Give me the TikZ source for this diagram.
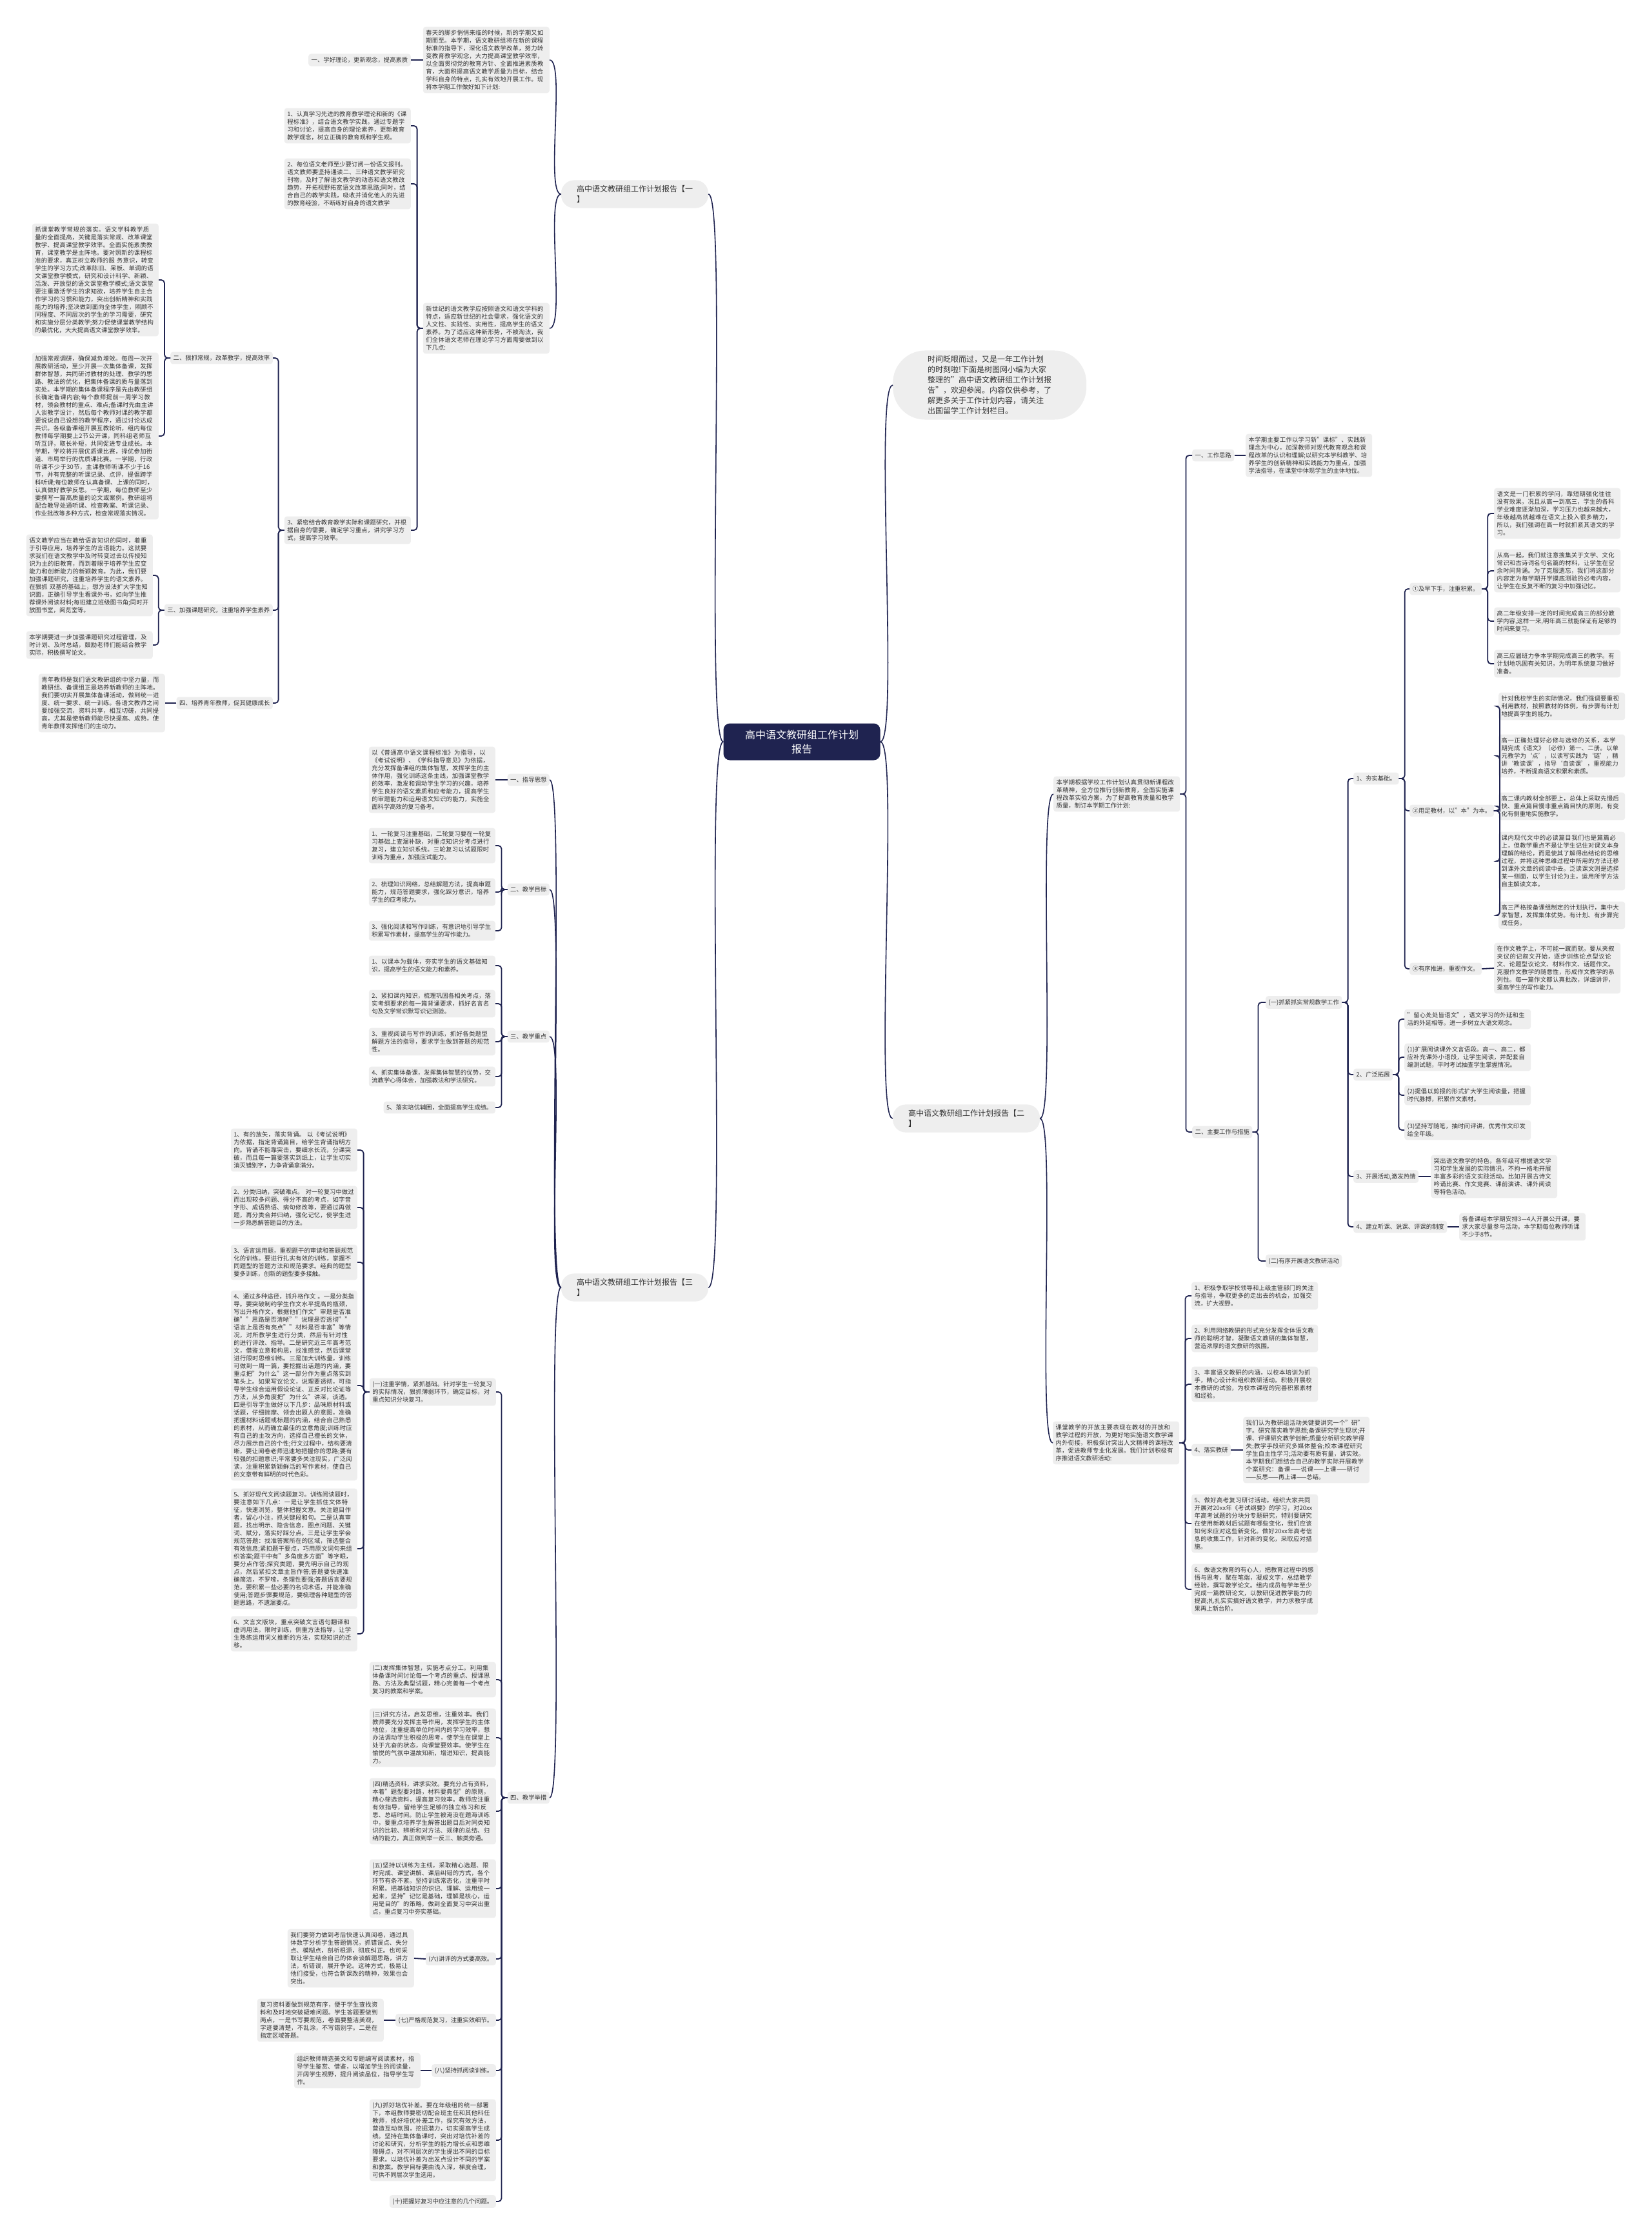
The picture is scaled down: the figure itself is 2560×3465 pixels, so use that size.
\documentclass[tikz,border=0pt]{standalone}
\usepackage{fontspec}
\setmainfont{Noto Sans CJK SC}
\XeTeXlinebreaklocale "zh"
\XeTeXlinebreakskip=0pt plus 1pt
\definecolor{linecol}{HTML}{1F2350}
\definecolor{rootfill}{HTML}{1F2350}
\definecolor{boxfill}{HTML}{EEEEEE}
\definecolor{inkcol}{HTML}{333333}

\begin{document}
\begin{tikzpicture}[
    x=1pt, y=-1pt,
    % Styles
    root/.style={
      fill=rootfill,
      text=white,
      rounded corners=10pt,
      align=center,
      font=\fontsize{16}{22}\selectfont,
      minimum width=243pt,
      minimum height=57pt,
    },
    branch/.style={
      fill=boxfill,
      text=inkcol,
      rounded corners=20pt,
      align=left,
      font=\fontsize{12}{16}\selectfont,
      inner xsep=24pt,
      inner ysep=8pt,
    },
    intro/.style={
      fill=boxfill,
      text=inkcol,
      rounded corners=50pt,
      align=left,
      font=\fontsize{12}{16}\selectfont,
      inner xsep=54pt,
      inner ysep=8pt,
    },
    leaf/.style={
      fill=boxfill,
      text=inkcol,
      rounded corners=4pt,
      align=left,
      text width=#1,
      font=\fontsize{9.35}{12}\selectfont,
      inner xsep=4.5pt,
      inner ysep=5pt,
    },
    leaf/.default=187pt,
    tag/.style={
      fill=boxfill,
      text=inkcol,
      rounded corners=4pt,
      font=\fontsize{9.35}{12}\selectfont,
      inner xsep=4.5pt,
      inner ysep=5pt,
    },
    link/.style={draw=linecol, line width=1.8pt, rounded corners=5pt},
    curve/.style={draw=linecol, line width=1.6pt},
  ]
  \fill[white] (0,0) rectangle (2560,3465);
  \useasboundingbox (0,0) rectangle (2560,3465);

  % centre and main branches
  \node[root] (root) at (1243,1150) {高中语文教研组工作计划\\报告};
  \node[branch] (b1) at (984,301) {高中语文教研组工作计划报告【一\\】};
  \node[branch] (b3) at (984,1996) {高中语文教研组工作计划报告【三\\】};
  \node[branch] (b2) at (1498,1734) {高中语文教研组工作计划报告【二\\】};
  \node[intro, anchor=west] (intro) at (1384,597) {时间眨眼而过，又是一年工作计划\\的时刻啦!下面是树图网小编为大家\\整理的"高中语文教研组工作计划报\\告"，欢迎参阅。内容仅供参考，了\\解更多关于工作计划内容，请关注\\出国留学工作计划栏目。};

  \draw[curve] (root.west) .. controls +(-30,0) and +(30,0) .. (b1.east);
  \draw[curve] (root.west) .. controls +(-30,0) and +(30,0) .. (b3.east);
  \draw[curve] (root.east) .. controls +(30,0) and +(-30,0) .. (intro.west);
  \draw[curve] (root.east) .. controls +(30,0) and +(-30,0) .. (b2.west);

  % ---------------- plan one
  \node[leaf, anchor=east] (a1) at (852,93) {春天的脚步悄悄来临的时候，新的学期又如期而至。本学期，语文教研组将在新的课程标准的指导下，深化语文教学改革，努力转变教育教学观念，大力提高课堂教学效率，以全面贯彻党的教育方针、全面推进素质教育，大面积提高语文教学质量为目标，结合学科自身的特点，扎实有效地开展工作。现将本学期工作做好如下计划:};
  \node[tag, anchor=east] (x1) at (637,93) {一、学好理论，更新观念，提高素质};
  \node[leaf, anchor=east] (nc) at (852,509) {新世纪的语文教学应按照语文和语文学科的特点，适应新世纪的社会需求，强化语文的人文性、实践性、实用性，提高学生的语文素养。为了适应这种新形势，不被淘汰，我们全体语文老师在理论学习方面需要做到以下几点:};
  \node[leaf, anchor=east] (i1) at (637,195) {1、认真学习先进的教育教学理论和新的《课程标准》，结合语文教学实践，通过专题学习和讨论，提高自身的理论素养，更新教育教学观念，树立正确的教育观和学生观。};
  \node[leaf, anchor=east] (i2) at (637,285) {2、每位语文老师至少要订阅一份语文报刊。语文教师要坚持通读二、三种语文教学研究刊物，及时了解语文教学的动态和语文教改趋势，开拓视野拓宽语文改革思路;同时，结合自己的教学实践，吸收并消化他人的先进的教育经验，不断练好自身的语文教学};
  \node[leaf, anchor=east] (i3) at (637,822) {3、紧密结合教育教学实际和课题研究，并根据自身的需要，确定学习重点，讲究学习方式，提高学习效率。};
  \node[tag, anchor=east] (n2) at (423,555) {二、狠抓常规，改革教学，提高效率};
  \node[tag, anchor=east] (n3) at (423,946) {三、加强课题研究，注重培养学生素养};
  \node[tag, anchor=east] (n4) at (423,1090) {四、培养青年教师，促其健康成长};
  \node[leaf, anchor=east] (l1) at (246,434) {抓课堂教学常规的落实。语文学科教学质量的全面提高，关键是落实常规、改革课堂教学、提高课堂教学效率。全面实施素质教育，课堂教学是主阵地。要对照新的课程标准的要求，真正树立教师的服 务意识，转变学生的学习方式;改革陈旧、呆板、单调的语文课堂教学模式，研究和设计科学、新颖、活泼、开放型的语文课堂教学模式;语文课堂要注重激活学生的求知欲，培养学生自主合作学习的习惯和能力，突出创新精神和实践能力的培养;坚决做到面向全体学生，照顾不同程度、不同层次的学生的学习需要，研究和实施分层分类教学;努力促使课堂教学结构的最优化，大大提高语文课堂教学效率。};
  \node[leaf, anchor=east] (l2) at (246,676) {加强常规调研，确保减负增效。每周一次开展教研活动，至少开展一次集体备课，发挥群体智慧，共同研讨教材的处理、教学的思路、教法的优化，把集体备课的质与量落到实处。本学期的集体备课程序是先由教研组长确定备课内容;每个教师提前一周学习教材，领会教材的重点、难点;备课时先由主讲人谈教学设计，然后每个教师对课的教学都要说说自己设想的教学程序，通过讨论达成共识。各级备课组开展互教轮听，组内每位教师每学期要上2节公开课，同科组老师互听互评，取长补短，共同促进专业成长。本学期，学校将开展优质课比赛，择优参加街道、市局举行的优质课比赛。一学期，行政听课不少于30节，主课教师听课不少于16节，并有完整的听课记录、点评，提倡跨学科听课;每位教师在认真备课、上课的同时，认真做好教学反思。一学期，每位教师至少要撰写一篇高质量的论文或案例。教研组将配合教导处通听课、检查教案、听课记录、作业批改等多种方式，检查常规落实情况。};
  \node[leaf, anchor=east] (l3) at (237,892) {语文教学应当在教给语言知识的同时，着重于引导应用，培养学生的言语能力。这就要求我们在语文教学中及时转变过去以传授知识为主的旧教育，而到着眼于培养学生应变能力和创新能力的新颖教育。为此，我们要加强课题研究，注重培养学生的语文素养。在狠抓 双基的基础上，想方设法扩大学生知识面，正确引导学生看课外书，如向学生推荐课外阅读材料;每班建立班级图书角;同时开放图书室，阅览室等。};
  \node[leaf, anchor=east] (l4) at (237,1000) {本学期要进一步加强课题研究过程管理，及时计划、及时总结，鼓励老师们能结合教学实际，积极撰写论文。};
  \node[leaf, anchor=east] (l5) at (256,1090) {青年教师是我们语文教研组的中坚力量，而教研组、备课组正是培养新教师的主阵地。我们要切实开展集体备课活动，做到统一进度、统一要求、统一训练。各语文教师之间要加强交流，资料共享，相互切磋，共同提高，尤其是使新教师能尽快提高、成熟，使青年教师发挥他们的主动力。};

  \foreach \c in {a1,nc}
    \draw[curve] (b1.west) .. controls +(-25,0) and +(25,0) .. (\c.east);
  \draw[link] (a1.west) -- (x1.east);
  \foreach \c in {i1,i2,i3}
    \draw[link] (nc.west) -- ++(-9,0) |- (\c.east);
  \foreach \c in {n2,n3,n4}
    \draw[link] (i3.west) -- ++(-9,0) |- (\c.east);
  \foreach \c in {l1,l2}
    \draw[link] (n2.west) -- ++(-9,0) |- (\c.east);
  \foreach \c in {l3,l4}
    \draw[link] (n3.west) -- ++(-9,0) |- (\c.east);
  \draw[link] (n4.west) -- (l5.east);

  % ---------------- plan three
  \node[tag, anchor=east] (t1) at (852,1209) {一、指导思想};
  \node[tag, anchor=east] (t2) at (852,1379) {二、教学目标};
  \node[tag, anchor=east] (t3) at (852,1607) {三、教学重点};
  \node[tag, anchor=east] (t4) at (852,2787) {四、教学举措};
  \node[leaf, anchor=east] (tt1) at (768,1209) {以《普通高中语文课程标准》为指导，以《考试说明》、《学科指导意见》为依据，充分发挥备课组的集体智慧，发挥学生的主体作用，强化训练这条主线，加强课堂教学的效率，激发和调动学生学习的兴趣，培养学生良好的语文素质和应考能力，提高学生的审题能力和运用语文知识的能力，实施全面科学高效的复习备考。};
  \node[leaf, anchor=east] (g1) at (768,1311) {1、一轮复习注重基础，二轮复习要在一轮复习基础上查漏补缺，对重点知识分考点进行复习，建立知识系统。三轮复习以试题限时训练为重点，加强应试能力。};
  \node[leaf, anchor=east] (g2) at (768,1383) {2、梳理知识网络，总结解题方法，提高审题能力，规范答题要求，强化踩分意识，培养学生的应考能力。};
  \node[leaf, anchor=east] (g3) at (768,1443) {3、强化阅读和写作训练，有意识地引导学生积累写作素材，提高学生的写作能力。};
  \node[leaf, anchor=east] (k1) at (768,1497) {1、以课本为载体，夯实学生的语文基础知识，提高学生的语文能力和素养。};
  \node[leaf, anchor=east] (k2) at (768,1556) {2、紧扣课内知识，梳理巩固各相关考点，落实考纲要求的每一篇背诵要求，抓好名言名句及文学常识默写识记测验。};
  \node[leaf, anchor=east] (k3) at (768,1615) {3、重视阅读与写作的训练，抓好各类题型解题方法的指导，要求学生做到答题的规范性。};
  \node[leaf, anchor=east] (k4) at (768,1669) {4、抓实集体备课，发挥集体智慧的优势，交流教学心得体会，加强教法和学法研究。};
  \node[tag, anchor=east] (k5) at (768,1717) {5、落实培优辅困，全面提高学生成绩。};
  \node[leaf, anchor=east] (c1) at (769,2158) {(一)注重学情，紧抓基础。针对学生一轮复习的实际情况，狠抓薄弱环节，确定目标，对重点知识分块复习。};
  \node[leaf, anchor=east] (c2) at (769,2604) {(二)发挥集体智慧，实施考点分工。利用集体备课时间讨论每一个考点的重点、授课思路、方法及典型试题，精心完善每一个考点复习的教案和学案。};
  \node[leaf, anchor=east] (c3) at (769,2694) {(三)讲究方法，启发思维，注重效率。我们教师要充分发挥主导作用，发挥学生的主体地位，注重提高单位时间内的学习效率，想办法调动学生积极的思考，使学生在课堂上处于亢奋的状态，向课堂要效率。使学生在愉悦的气氛中温故知新，增进知识，提高能力。};
  \node[leaf, anchor=east] (c4) at (769,2808) {(四)精选资料，讲求实效。要充分占有资料，本着"题型要对路，材料要典型"的原则，精心筛选资料，提高复习效率。教师应注重有效指导，留给学生足够的独立练习和反思、总结时间。防止学生被淹没在题海训练中，要重点培养学生解答出题目后对同类知识的比较、辨析和对方法、规律的总结、归纳的能力，真正做到举一反三、触类旁通。};
  \node[leaf, anchor=east] (c5) at (769,2928) {(五)坚持以训练为主线，采取精心选题、限时完成、课堂讲解、课后纠错的方式，各个环节有条不紊。坚持训练常态化，注重平时积累。把基础知识的识记、理解、运用统一起来，坚持"记忆是基础，理解是核心，运用是目的"的策略，做到全面复习中突出重点，重点复习中夯实基础。};
  \node[tag, anchor=east] (c6) at (769,3037) {(六)讲评的方式要高效。};
  \node[tag, anchor=east] (c7) at (769,3132) {(七)严格规范复习，注重实效细节。};
  \node[tag, anchor=east] (c8) at (769,3210) {(八)坚持抓阅读训练。};
  \node[leaf, anchor=east] (c9) at (769,3318) {(九)抓好培优补差。要在年级组的统一部署下，本组教师要密切配合班主任和其他科任教师，抓好培优补差工作，探究有效方法，营造互动氛围，挖掘潜力，切实提高学生成绩。坚持在集体备课时，突出对培优补差的讨论和研究，分析学生的能力增长点和思维障碍点，对不同层次的学生提出不同的目标要求。以培优补差为出发点设计不同的学案和教案。教学目标要由浅入深，梯度合理，可供不同层次学生选用。};
  \node[tag, anchor=east] (c10) at (769,3413) {(十)把握好复习中应注意的几个问题。};
  \node[leaf, anchor=east] (s1) at (554,1783) {1、有的放矢，落实背诵。 以《考试说明》为依据，指定背诵篇目，给学生背诵指明方向。背诵不能靠突击，要细水长流，分课突破，而且每一篇要落实到纸上，让学生切实消灭错别字，力争背诵拿满分。};
  \node[leaf, anchor=east] (s2) at (554,1872) {2、分类归纳，突破难点。 对一轮复习中做过而出现较多问题、得分不高的考点，如字音字形、成语熟语、病句修改等，要通过再做题，再分类合并归纳，强化记忆，使学生进一步熟悉解答题目的方法。};
  \node[leaf, anchor=east] (s3) at (554,1957) {3、语言运用题，重视题干的审读和答题规范化的训练。要进行扎实有效的训练，掌握不同题型的答题方法和规范要求。经典的题型要多训练，创新的题型要多接触。};
  \node[leaf, anchor=east] (s4) at (554,2148) {4、通过多种途径，抓升格作文 。一是分类指导。要突破制约学生作文水平提高的瓶颈，写出升格作文，根据他们作文"审题是否准确""思路是否清晰""说理是否透彻""语言上是否有亮点""材料是否丰富"等情况，对所教学生进行分类，然后有针对性的进行评改、指导。二是研究近三年高考范文，借鉴立意和构思，找准感觉，然后课堂进行限时思维训练。三是加大训练量，训练可做到一周一篇，要挖掘出话题的内涵，要重点把"为什么"这一部分作为重点落实到笔头上。如果写议论文，说理要透彻，可指导学生综合运用假设论证、正反对比论证等方法，从多角度把"为什么"讲深，谈透。四是引导学生做好以下几步：品味原材料或话题，仔细揣摩、领会出题人的意图，准确把握材料话题或标题的内涵，结合自己熟悉的素材，从而确立最佳的立意角度;训练时应有自己的主攻方向，选择自己擅长的文体，尽力展示自己的个性;行文过程中，结构要清晰，要让阅卷老师迅速地把握你的思路;要有较强的扣题意识;平常要多关注现实，广泛阅读，注重积累新颖鲜活的写作素材，使自己的文章带有鲜明的时代色彩。};
  \node[leaf, anchor=east] (s5) at (554,2401) {5、抓好现代文阅读题复习。训练阅读题时，要注意如下几点：一是让学生抓住文体特征，快速浏览，整体把握文意。关注题目作者，留心小注，抓关键段和句。二是认真审题，找出明示、隐含信息，圈点问题、关键词、赋分，落实好踩分点。三是让学生学会规范答题：找准答案所在的区域，筛选整合有效信息;紧扣题干要点，巧用原文词句来组织答案;题干中有"多角度多方面"等字眼，要分点作答;探究类题，要先明示自己的观点，然后紧扣文章主旨作答;答题要快速准确简洁，不罗嗦，条理性要强;答题语言要规范，要积累一些必要的名词术语，并能准确使用;答题步骤要规范，要梳理各种题型的答题思路，不遗漏要点。};
  \node[leaf, anchor=east] (s6) at (554,2533) {6、文言文版块，重点突破文言语句翻译和虚词用法。限时训练，侧重方法指导，让学生熟练运用词义推断的方法，实现知识的迁移。};
  \node[leaf, anchor=east] (d6) at (642,3036) {我们要努力做到考后快速认真阅卷，通过具体数字分析学生答题情况，抓错误点、失分点、模糊点，剖析根源，彻底纠正。也可采取让学生结合自己的体会谈解题思路，讲方法，析错误，展开争论。这种方式，极易让他们接受，也符合新课改的精神，效果也会突出。};
  \node[leaf, anchor=east] (d7) at (595,3132) {复习资料要做到规范有序，便于学生查找资料和及时地突破疑难问题。学生答题要做到两点，一是书写要规范，卷面要整洁美观，字迹要清楚，不乱涂，不写错别字。二是在指定区域答题。};
  \node[leaf, anchor=east] (d8) at (652,3210) {组织教师精选美文和专题编写阅读素材，指导学生鉴赏、借鉴，以增加学生的阅读量，开阔学生视野，提升阅读品位，指导学生写作。};

  \foreach \c in {t1,t2,t3,t4}
    \draw[curve] (b3.west) .. controls +(-25,0) and +(25,0) .. (\c.east);
  \draw[link] (t1.west) -- (tt1.east);
  \foreach \c in {g1,g2,g3}
    \draw[link] (t2.west) -- ++(-9,0) |- (\c.east);
  \foreach \c in {k1,k2,k3,k4,k5}
    \draw[link] (t3.west) -- ++(-9,0) |- (\c.east);
  \foreach \c in {c1,c2,c3,c4,c5,c6,c7,c8,c9,c10}
    \draw[link] (t4.west) -- ++(-9,0) |- (\c.east);
  \foreach \c in {s1,s2,s3,s4,s5,s6}
    \draw[link] (c1.west) -- ++(-9,0) |- (\c.east);
  \draw[link] (c6.west) -- (d6.east);
  \draw[link] (c7.west) -- (d7.east);
  \draw[link] (c8.west) -- (d8.east);

  % ---------------- plan two
  \node[leaf, anchor=west] (r0) at (1633,1231) {本学期根据学校工作计划认真贯彻新课程改革精神，全方位推行创新教育，全面实施课程改革实验方案，为了提高教育质量和教学质量，制订本学期工作计划:};
  \node[leaf, anchor=west] (q0) at (1632,2237) {课堂教学的开放主要表现在教材的开放和教学过程的开放，为更好地实施语文教学课内外衔接，积极探讨突出人文精神的课程改革，促进教师专业化发展。我们计划积极有序推进语文教研活动:};
  \node[tag, anchor=west] (w0) at (1848,706) {一、工作思路};
  \node[leaf, anchor=west] (w1) at (1931,706) {本学期主要工作以学习新"课标"、实践新理念为中心，加深教师对现代教育观念和课程改革的认识和理解;以研究本学科教学、培养学生的创新精神和实践能力为重点，加强学法指导，在课堂中体现学生的主体地位。};
  \node[tag, anchor=west] (m0) at (1848,1755) {二、主要工作与措施};
  \node[tag, anchor=west] (m1) at (1962,1554) {(一)抓紧抓实常规教学工作};
  \node[tag, anchor=west] (m2) at (1962,1955) {(二)有序开展语文教研活动};
  \node[tag, anchor=west] (u1) at (2098,1207) {1、夯实基础。};
  \node[tag, anchor=west] (u2) at (2098,1666) {2、广泛拓展};
  \node[tag, anchor=west] (u3) at (2098,1824) {3、开展活动,激发热情};
  \node[tag, anchor=west] (u4) at (2098,1902) {4、建立听课、说课、评课的制度};
  \node[tag, anchor=west] (v1) at (2185,913) {①及早下手，注重积累。};
  \node[tag, anchor=west] (v2) at (2185,1257) {②用足教材，以"本"为本。};
  \node[tag, anchor=west] (v3) at (2185,1502) {③有序推进，重视作文。};
  \node[leaf, anchor=west] (e1) at (2316,796) {语文是一门积累的学问，靠短期强化往往没有效果，况且从高一到高三，学生的各科学业难度逐渐加深，学习压力也越来越大，年级越高就越难在语文上投入很多精力，所以，我们强调在高一时就抓紧其语文的学习。};
  \node[leaf, anchor=west] (e2) at (2316,885) {从高一起，我们就注意搜集关于文学、文化常识和古诗词名句名篇的材料，让学生在空余时间背诵。为了克服遗忘，我们将这部分内容定为每学期开学摸底测验的必考内容，让学生在反复不断的复习中加强记忆。};
  \node[leaf, anchor=west] (e3) at (2316,963) {高二年级安排一定的时间完成高三的部分教学内容,这样一来,明年高三就能保证有足够的时间来复习。};
  \node[leaf, anchor=west] (e4) at (2316,1029) {高三应届班力争本学期完成高三的教学。有计划地巩固有关知识，为明年系统复习做好准备。};
  \node[leaf, anchor=west] (f1) at (2323,1095) {针对我校学生的实际情况，我们强调要重视利用教材，按照教材的体例，有步骤有计划地提高学生的能力。};
  \node[leaf, anchor=west] (f2) at (2323,1172) {高一正确处理好必修与选修的关系，本学期完成《语文》（必修）第一、二册。以单元教学为‘点’，以读写实践为‘链’，精讲‘教读课’，指导‘自读课’，重视能力培养，不断提高语文积累和素质。};
  \node[leaf, anchor=west] (f3) at (2323,1250) {高二课内教材全部要上，总体上采取先慢后快、重点篇目慢非重点篇目快的原则，有变化有侧重地实施教学。};
  \node[leaf, anchor=west] (f4) at (2323,1335) {课内现代文中的必读篇目我们也是篇篇必上，但教学重点不是让学生记住对课文本身理解的结论，而是使其了解得出结论的思维过程，并将这种思维过程中所用的方法迁移到课外文章的阅读中去。泛读课文则是选择某一侧面，以学生讨论为主，运用所学方法自主解读文本。};
  \node[leaf, anchor=west] (f5) at (2323,1419) {高三严格按备课组制定的计划执行，集中大家智慧，发挥集体优势。有计划、有步骤完成任务。};
  \node[leaf, anchor=west] (gg) at (2316,1501) {在作文教学上，不可能一蹴而就，要从夹叙夹议的记叙文开始，逐步训练论点型议论文、论题型议论文、材料作文、话题作文。克服作文教学的随意性，形成作文教学的系列性。每一篇作文都认真批改，详细讲评，提高学生的写作能力。};
  \node[leaf, anchor=west] (h1) at (2177,1580) {"留心处处皆语文"，语文学习的外延和生活的外延相等。进一步树立大语文观念。};
  \node[leaf, anchor=west] (h2) at (2177,1639) {(1)扩展阅读课外文言语段。高一、高二，都应补充课外小语段，让学生阅读，并配套自编测试题，平时考试抽查学生掌握情况。};
  \node[leaf, anchor=west] (h3) at (2177,1698) {(2)提倡以剪报的形式扩大学生阅读量，把握时代脉搏，积累作文素材。};
  \node[leaf, anchor=west] (h4) at (2177,1752) {(3)坚持写随笔，抽时间评讲，优秀作文印发给全年级。};
  \node[leaf, anchor=west] (it) at (2218,1824) {突出语文教学的特色，各年级可根据语文学习和学生发展的实际情况，不拘一格地开展丰富多彩的语文实践活动。比如开展古诗文吟诵比赛、作文竞赛、课前演讲、课外阅读等特色活动。};
  \node[leaf, anchor=west] (jt) at (2262,1902) {各备课组本学期安排3—4人开展公开课，要求大家尽量参与活动。本学期每位教师听课不少于8节。};
  \node[leaf, anchor=west] (p1) at (1847,2009) {1、积极争取学校领导和上级主管部门的关注与指导，争取更多的走出去的机会，加强交流，扩大视野。};
  \node[leaf, anchor=west] (p2) at (1847,2075) {2、利用网络教研的形式充分发挥全体语文教师的聪明才智，凝聚语文教研的集体智慧，营造浓厚的语文教研的氛围。};
  \node[leaf, anchor=west] (p3) at (1847,2146) {3、丰富语文教研的内涵，以校本培训为抓手，精心设计和组织教研活动。积极开展校本教研的试验，为校本课程的完善积累素材和经验。};
  \node[tag, anchor=west] (p4) at (1847,2248) {4、落实教研};
  \node[leaf, anchor=west] (p4t) at (1927,2248) {我们认为教研组活动关键要讲究一个"研"字。研究落实教学思想;备课研究学生现状;开课、评课研究教学创新;质量分析研究教学得失;教学手段研究多媒体整合;校本课程研究学生自主性学习;活动要有质有量，讲实效。本学期我们想结合自己的教学实际开展教学个案研究：备课——说课——上课——研讨——反思——再上课——总结。};
  \node[leaf, anchor=west] (p5) at (1847,2362) {5、做好高考复习研讨活动。组织大家共同开展对20xx年《考试纲要》的学习，对20xx年高考试题的分块分专题研究，特别要研究在使用新教材后试题有哪些变化，我们应该如何来应对这些新变化。做好20xx年高考信息的收集工作，针对新的变化，采取应对措施。};
  \node[leaf, anchor=west] (p6) at (1847,2464) {6、做语文教育的有心人，把教育过程中的感悟与思考，聚在笔端，凝成文字，总结教学经验，撰写教学论文。组内成员每学年至少完成一篇教研论文，以教研促进教学能力的提高;扎扎实实搞好语文教学，并力求教学成果再上新台阶。};

  \foreach \c in {r0,q0}
    \draw[curve] (b2.east) .. controls +(25,0) and +(-25,0) .. (\c.west);
  \foreach \c in {w0,m0}
    \draw[link] (r0.east) -- ++(9,0) |- (\c.west);
  \draw[link] (w0.east) -- (w1.west);
  \foreach \c in {m1,m2}
    \draw[link] (m0.east) -- ++(9,0) |- (\c.west);
  \foreach \c in {u1,u2,u3,u4}
    \draw[link] (m1.east) -- ++(9,0) |- (\c.west);
  \foreach \c in {v1,v2,v3}
    \draw[link] (u1.east) -- ++(9,0) |- (\c.west);
  \foreach \c in {e1,e2,e3,e4}
    \draw[link] (v1.east) -- ++(9,0) |- (\c.west);
  \foreach \c in {f1,f2,f3,f4,f5}
    \draw[link] (v2.east) -- ++(9,0) |- (\c.west);
  \draw[link] (v3.east) -- (gg.west);
  \foreach \c in {h1,h2,h3,h4}
    \draw[link] (u2.east) -- ++(9,0) |- (\c.west);
  \draw[link] (u3.east) -- (it.west);
  \draw[link] (u4.east) -- (jt.west);
  \foreach \c in {p1,p2,p3,p4,p5,p6}
    \draw[link] (q0.east) -- ++(9,0) |- (\c.west);
  \draw[link] (p4.east) -- (p4t.west);
\end{tikzpicture}
\end{document}
